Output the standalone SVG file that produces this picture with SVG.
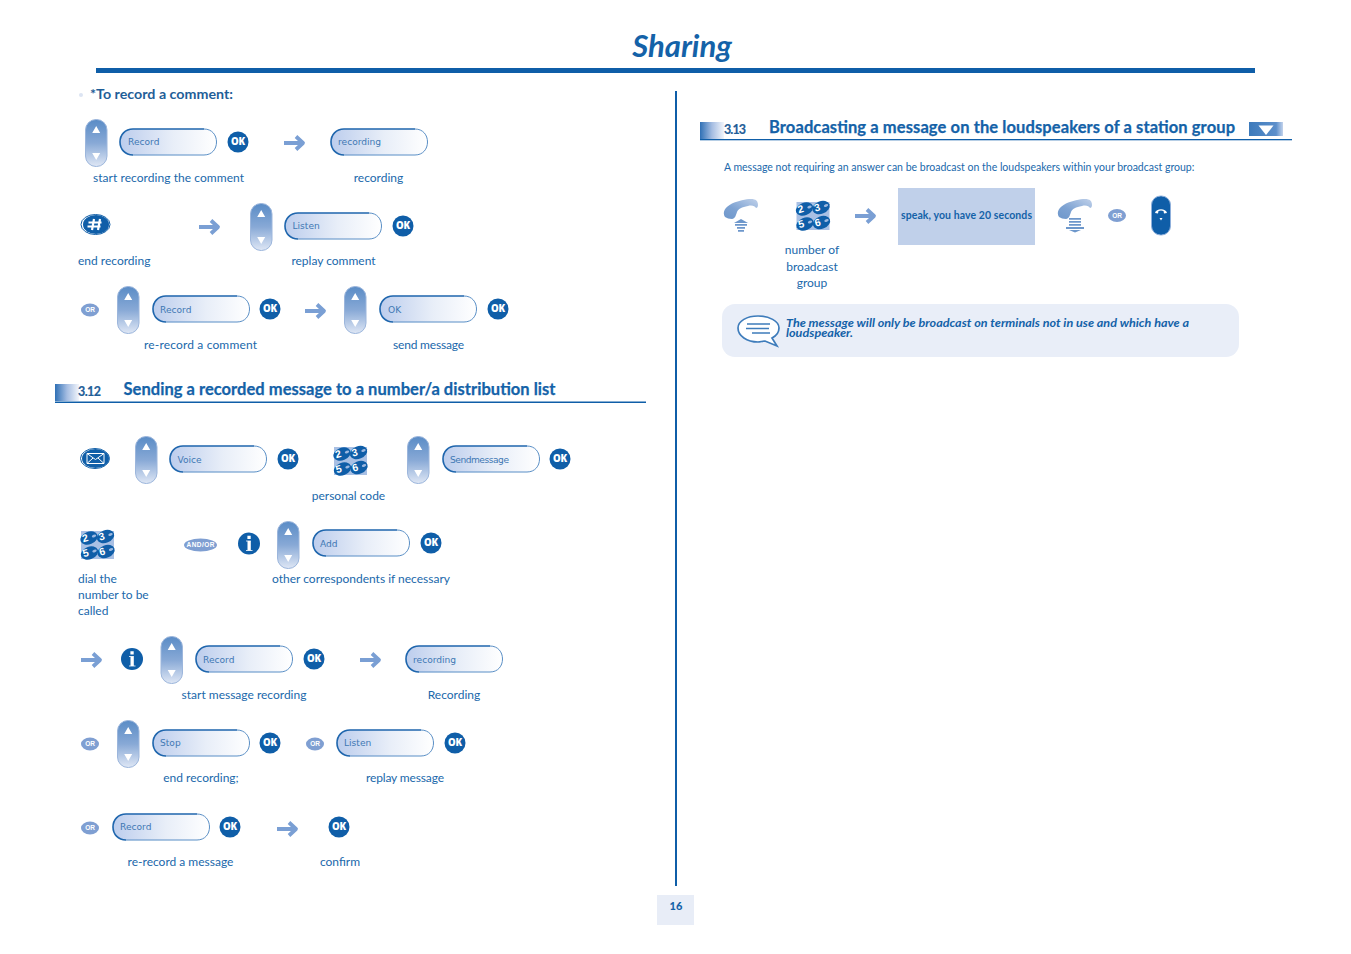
<svg xmlns="http://www.w3.org/2000/svg" width="1351" height="954" viewBox="0 0 1351 954">
<style>
text{font-family:"Lato","Open Sans","Liberation Sans",sans-serif;fill:#2068ab}
.l{font-size:12px}
.m{text-anchor:middle}
.sk{font-family:"DejaVu Sans","Liberation Sans",sans-serif;font-size:9.100px;fill:#3f78b4}
.h{font-size:16.500px;font-weight:700;fill:#1462a8;stroke:#1462a8;stroke-width:.25px}
.n{font-size:12.500px;font-weight:700;fill:#1f5e98;stroke:#1f5e98;stroke-width:.2px}
.okt{font-family:"Open Sans","Liberation Sans",sans-serif;font-size:9.600px;font-weight:800;fill:#fff;text-anchor:middle}
.ort{font-family:"Liberation Sans",sans-serif;font-size:6.500px;font-weight:700;fill:#fff;text-anchor:middle}
.keyt{font-family:"Liberation Sans",sans-serif;font-size:10.500px;font-weight:700;fill:#fff;text-anchor:middle}
.ar{fill:none;stroke:#7a9fd4;stroke-width:3.800;stroke-linejoin:round}
.note{font-size:11.800px;font-weight:700;font-style:italic;fill:#1462a8}
</style>
<defs>
<linearGradient id="gn" x1="0" y1="0" x2="0" y2="1"><stop offset="0" stop-color="#5a8cc6"/><stop offset=".5" stop-color="#88a9d6"/><stop offset="1" stop-color="#dfe7f5"/></linearGradient>
<linearGradient id="gs" x1="0" y1="0" x2="1" y2="0"><stop offset="0" stop-color="#bccded"/><stop offset=".55" stop-color="#e8eef8"/><stop offset="1" stop-color="#fff"/></linearGradient>
<linearGradient id="gb" x1="0" y1="0" x2="1" y2="0"><stop offset="0" stop-color="#2f70b5"/><stop offset=".5" stop-color="#a5bde2"/><stop offset="1" stop-color="#f2f5fb"/></linearGradient>
<linearGradient id="gt" x1="0" y1="0" x2="1" y2="0"><stop offset="0" stop-color="#3c7abb"/><stop offset=".8" stop-color="#5c8fcb"/><stop offset="1" stop-color="#c3d3ec"/></linearGradient>
<linearGradient id="gp" x1="1" y1="0" x2="0" y2="1"><stop offset="0" stop-color="#c0d1ea"/><stop offset=".6" stop-color="#7da2d2"/><stop offset="1" stop-color="#6e97cb"/></linearGradient>
<g id="nav"><rect x="-10.500" y="-23.500" width="21.500" height="47" rx="10.500" fill="url(#gn)" stroke="#9cb6dc" stroke-width="1"/><path d="M.2-17l4 7h-8zM.2 17l4-7h-8z" fill="#fff"/></g>
<g id="sk"><rect x=".8" y=".8" width="96.500" height="26.500" rx="13" fill="url(#gs)"/><path d="M85 1H14C6 1 1 7 1 14s5 13 13 13" fill="none" stroke="#1f66ad" stroke-width="1.600"/><path d="M85 1c8 0 12.500 6 12.500 13S93 27 85 27H14" fill="none" stroke="#5a8fc6" stroke-width="1"/></g>
<g id="ok"><circle r="10.500" fill="#0f5ea8"/><text class="okt" y="3.400">OK</text></g>
<g id="or"><ellipse rx="9" ry="6.500" fill="#7f9fd2"/><text class="ort" y="2.300">OR</text></g>
<g id="arr"><path class="ar" d="M-10 0H8M2-6.500 9 0 2 6.500"/></g>
<g id="info"><circle r="11" fill="#0f5ea8"/><path d="M-1.500-2.500H1.800V7H-1.500zM-1.600-7.800h3.300v3.200h-3.300z" fill="#fff"/><path d="M-3-2.500H1.800M-3 7H3.500" stroke="#fff" stroke-width=".8"/></g>
<g id="key"><rect x="-16.500" y="-14" width="33" height="28" fill="#a9c0e4"/>
<g fill="#0f5ea8"><ellipse cx="-8.500" cy="-7" rx="9" ry="6.300" transform="rotate(-22 -8.500 -7)"/><ellipse cx="8" cy="-8.500" rx="9" ry="6.300" transform="rotate(-22 8 -8.500)"/><ellipse cx="-8" cy="8" rx="9" ry="6.300" transform="rotate(-22 -8 8)"/><ellipse cx="8.500" cy="6.500" rx="9" ry="6.300" transform="rotate(-22 8.500 6.500)"/></g>
<text class="keyt" transform="translate(-11.500 -3.500) rotate(-15)">2</text><text class="keyt" transform="translate(5 -5) rotate(-15)">3</text><text class="keyt" transform="translate(-11 11.500) rotate(-15)">5</text><text class="keyt" transform="translate(5.500 10) rotate(-15)">6</text>
<g fill="#9db8e0"><ellipse cx="-3.500" cy="-9" rx="2.300" ry="1.300" transform="rotate(-22 -3.500 -9)"/><ellipse cx="13" cy="-10.500" rx="2.300" ry="1.300" transform="rotate(-22 13 -10.500)"/><ellipse cx="-3" cy="6" rx="2.300" ry="1.300" transform="rotate(-22 -3 6)"/><ellipse cx="13.500" cy="4.500" rx="2.300" ry="1.300" transform="rotate(-22 13.500 4.500)"/></g></g>
<g id="hand"><path d="M-16 5C-19 0-16-5-9-8.500-3-11 5-13 10-13c5 0 7 2 7 6 0 2-1 3-2 3-1-2-4-3-8-2-6 1-10 3-11 6-1 3-2 7-5 7-3 0-5-1-7-2z" fill="url(#gp)"/></g>
</defs>
<rect width="1351" height="954" fill="#fff"/>
<text x="682" y="57" text-anchor="middle" style="font-size:31px;font-weight:700;font-style:italic;fill:#1462a8">Sharing</text>
<rect x="96" y="68" width="1159" height="5" fill="#0f5ea8"/>
<rect x="675" y="91" width="2" height="795" fill="#0f5ea8"/>
<circle cx="81" cy="95" r="2" fill="#dce4f3"/>
<text x="90" y="99" textLength="143" lengthAdjust="spacingAndGlyphs" style="font-size:12.500px;font-weight:700;fill:#1f5e98">*To record a comment:</text>

<g id="connectors">
<use href="#arr" x="294" y="143"/><use href="#arr" x="209" y="227"/><use href="#arr" x="315" y="311"/>
<use href="#arr" x="91" y="660"/><use href="#arr" x="370" y="660"/><use href="#arr" x="287" y="829"/><use href="#arr" x="865" y="216"/>
</g>

<g id="r1"><use href="#nav" x="96" y="143"/><use href="#sk" x="119" y="128"/><text class="sk" x="128" y="145">Record</text><use href="#ok" x="238" y="142"/>
<text class="l" x="93" y="182" textLength="151">start recording the comment</text></g>
<g id="r1b"><use href="#sk" x="330" y="128"/><text class="sk" x="338" y="145">recording</text><text class="l m" x="378.500" y="182">recording</text></g>

<g id="r2a"><ellipse cx="95.500" cy="224.500" rx="14.500" ry="10" fill="#fff" stroke="#0f5ea8" stroke-width="1"/><ellipse cx="96" cy="224.500" rx="13" ry="9.500" fill="#0f5ea8"/><path d="M94 219l-2 11M100 219l-2 11M88.500 222.500h13M87.500 226.500h13" stroke="#fff" stroke-width="2.200" fill="none"/><text class="l" x="78" y="265">end recording</text></g>
<g id="r2b"><use href="#nav" x="261" y="227"/><use href="#sk" x="284" y="212"/><text class="sk" x="292.500" y="229">Listen</text><use href="#ok" x="403" y="226"/><text class="l m" x="333.500" y="265">replay comment</text></g>

<g id="r3a"><use href="#or" x="90" y="310"/><use href="#nav" x="128" y="310"/><use href="#sk" x="152" y="295"/><text class="sk" x="160" y="313">Record</text><use href="#ok" x="270" y="309"/><text class="l m" x="200.500" y="349" textLength="113">re-record a comment</text></g>
<g id="r3b"><use href="#nav" x="355" y="310"/><use href="#sk" x="379" y="295"/><text class="sk" x="388" y="313">OK</text><use href="#ok" x="498" y="309"/><text class="l m" x="428.500" y="349" textLength="71">send message</text></g>

<g id="h312"><rect x="55" y="384" width="24" height="17" fill="url(#gb)"/><rect x="55" y="401.500" width="591" height="1.500" fill="#0f5ea8"/><text class="n" x="78" y="396" textLength="23">3.12</text><text class="h" x="123.500" y="395" textLength="432">Sending a recorded message to a number/a distribution list</text></g>

<g id="r4a"><ellipse cx="95" cy="458.500" rx="14.500" ry="10" fill="#fff" stroke="#0f5ea8" stroke-width="1"/><ellipse cx="95.500" cy="458.500" rx="13.500" ry="9.500" fill="#0f5ea8"/><path d="M87 453.500h17v10h-17zM87 453.500l8.500 6 8.500-6M87 463.500l6-5.500M104 463.500l-6-5.500" fill="none" stroke="#fff" stroke-width="1"/></g>
<g id="r4b"><use href="#nav" x="146" y="460"/><use href="#sk" x="169" y="445"/><text class="sk" x="177.500" y="463">Voice</text><use href="#ok" x="288" y="459"/></g>
<g id="r4c"><use href="#key" x="350.500" y="461"/><text class="l m" x="348.500" y="500">personal code</text></g>
<g id="r4d"><use href="#nav" x="418" y="460"/><use href="#sk" x="442" y="445"/><text class="sk" x="450" y="463" textLength="59">Sendmessage</text><use href="#ok" x="560" y="459"/></g>

<g id="r5a"><use href="#key" x="97.500" y="545"/><text class="l" x="78" y="583">dial the</text><text class="l" x="78" y="599">number to be</text><text class="l" x="78" y="615">called</text></g>
<g id="r5b"><ellipse cx="200.500" cy="545" rx="16.500" ry="6.500" fill="#7f9fd2"/><text class="ort" x="200.500" y="547.300" textLength="28">AND/OR</text></g>
<g id="r5c"><use href="#info" x="249" y="543.500"/></g>
<g id="r5d"><use href="#nav" x="288" y="545"/><use href="#sk" x="312" y="529"/><text class="sk" x="320" y="547">Add</text><use href="#ok" x="431" y="543"/><text class="l m" x="361" y="583">other correspondents if necessary</text></g>

<g id="r6a"><use href="#info" x="132" y="659"/><use href="#nav" x="171.500" y="660"/><use href="#sk" x="195" y="645"/><text class="sk" x="203" y="663">Record</text><use href="#ok" x="314" y="659"/><text class="l m" x="244" y="699">start message recording</text></g>
<g id="r6b"><use href="#sk" x="405" y="645"/><text class="sk" x="413" y="663">recording</text><text class="l m" x="454" y="699">Recording</text></g>

<g id="r7a"><use href="#or" x="90" y="744"/><use href="#nav" x="128" y="744"/><use href="#sk" x="152" y="729"/><text class="sk" x="160" y="746">Stop</text><use href="#ok" x="270" y="743"/><text class="l m" x="201" y="782">end recording;</text></g>
<g id="r7b"><use href="#or" x="315" y="744"/><use href="#sk" x="336" y="729"/><text class="sk" x="344" y="746">Listen</text><use href="#ok" x="455" y="743"/><text class="l m" x="405" y="782" textLength="78">replay message</text></g>

<g id="r8a"><use href="#or" x="90" y="828"/><use href="#sk" x="112" y="813"/><text class="sk" x="120" y="830">Record</text><use href="#ok" x="230" y="827"/><text class="l m" x="180.500" y="866">re-record a message</text></g>
<g id="r8b"><use href="#ok" x="339" y="827"/><text class="l m" x="340" y="866">confirm</text></g>

<g id="page"><rect x="657" y="895" width="37" height="30" fill="#e8edf7"/><text x="676" y="910" text-anchor="middle" style="font-size:11px;font-weight:900;fill:#1462a8">16</text></g>

<g id="h313"><rect x="700" y="122" width="24" height="17" fill="url(#gb)"/><rect x="700" y="139" width="592" height="1.300" fill="#0f5ea8"/><text class="n" x="724" y="134" textLength="22">3.13</text><text class="h" x="769" y="133" textLength="466">Broadcasting a message on the loudspeakers of a station group</text><rect x="1249" y="122" width="34" height="14" fill="url(#gt)"/><path d="M1258.500 125.500h15l-7.500 9.500z" fill="#fff"/></g>
<text x="724" y="170.500" style="font-size:10.500px">A message not requiring an answer can be broadcast on the loudspeakers within your broadcast group:</text>

<g id="off-hook"><use href="#hand" x="741" y="212"/><path d="M741 219l7 4h-14zM735 224h12v1.800h-12zM737 227h8v1.800h-8zM738 230h6v1.800h-6z" fill="#6d97cb"/></g>
<g id="r9k"><use href="#key" x="813" y="216"/><text class="l m" x="812" y="254">number of</text><text class="l m" x="812" y="271">broadcast</text><text class="l m" x="812" y="287">group</text></g>
<g id="speak"><rect x="898" y="188" width="137" height="57" fill="#c0d0ea"/><text x="966.500" y="218.500" text-anchor="middle" textLength="131" style="font-size:10.500px;font-weight:700;fill:#1462a8">speak, you have 20 seconds</text></g>
<g id="on-hook"><use href="#hand" x="1075" y="212"/><path d="M1069 218h12v1.800h-12zM1069 221h12v1.800h-12zM1069 224h12v1.800h-12zM1066 227h18v2h-18zM1069 230h12l-6 2.500z" fill="#6d97cb"/></g>
<g id="or9"><use href="#or" x="1117" y="215.500"/></g>
<g id="hangup"><rect x="1151.500" y="196" width="19" height="39" rx="9" fill="#0f5ea8" stroke="#8fb0dc" stroke-width="1"/><path d="M1155 213c1-5 11-5 12 0l-3 .5-.5-2.500c-2-.8-3-.8-5 0l-.5 2.500z" fill="#fff"/><path d="M1159.500 218h3l-1.500 2.500z" fill="#fff"/></g>

<g id="note"><rect x="722" y="304" width="517" height="53" rx="13" fill="#e9eef8"/>
<path d="M758 316c11 0 21 5 21 12 0 5-3 8-7 10l5 8-12-5c-2 0-5 1-7 1-11 0-20-6-20-14 0-7 9-12 20-12z" fill="#fff" stroke="#3e7cbb" stroke-width="1.700"/>
<path d="M747 324h23M746 328.500h23M752 333h18" stroke="#3e7cbb" stroke-width="1.300" fill="none"/>
<text class="note" x="786" y="327" textLength="403" lengthAdjust="spacingAndGlyphs">The message will only be broadcast on terminals not in use and which have a</text>
<text class="note" x="786" y="337" textLength="67" lengthAdjust="spacingAndGlyphs">loudspeaker.</text></g>
</svg>
